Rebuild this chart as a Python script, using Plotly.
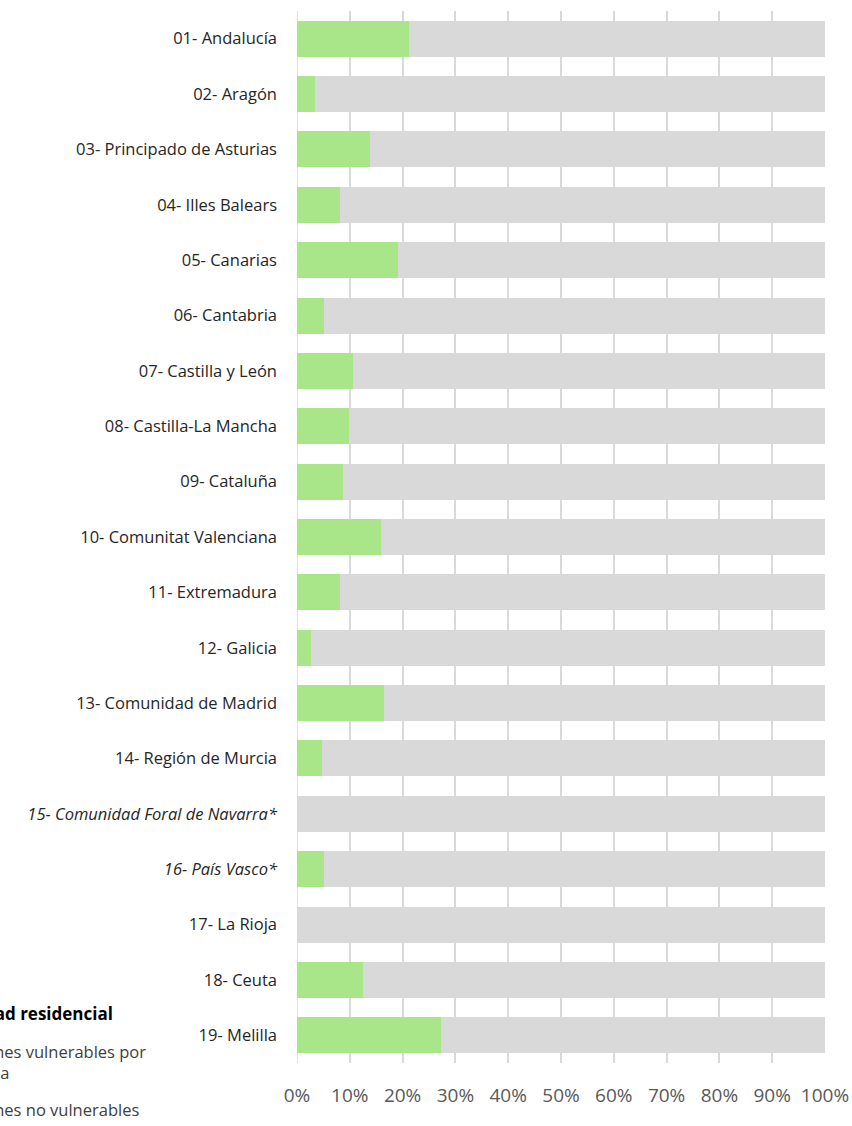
import plotly.graph_objects as go

categories = [
    "01- Andalucía", "02- Aragón", "03- Principado de Asturias", "04- Illes Balears",
    "05- Canarias", "06- Cantabria", "07- Castilla y León", "08- Castilla-La Mancha",
    "09- Cataluña", "10- Comunitat Valenciana", "11- Extremadura", "12- Galicia",
    "13- Comunidad de Madrid", "14- Región de Murcia", "15- Comunidad Foral de Navarra*",
    "16- País Vasco*", "17- La Rioja", "18- Ceuta", "19- Melilla",
]
tick_labels = [
    "01- Andalucía", "02- Aragón", "03- Principado de Asturias", "04- Illes Balears",
    "05- Canarias", "06- Cantabria", "07- Castilla y León", "08- Castilla-La Mancha",
    "09- Cataluña", "10- Comunitat Valenciana", "11- Extremadura", "12- Galicia",
    "13- Comunidad de Madrid", "14- Región de Murcia", "<i>15- Comunidad Foral de Navarra*</i>",
    "<i>16- País Vasco*</i>", "17- La Rioja", "18- Ceuta", "19- Melilla",
]
vulnerables = [21.3, 3.4, 13.9, 8.2, 19.2, 5.1, 10.6, 9.9, 8.8, 15.9,
               8.2, 2.6, 16.5, 4.7, 0.0, 5.2, 0.0, 12.5, 27.3]
no_vulnerables = [round(100 - v, 1) for v in vulnerables]

x_tickvals = [0, 10, 20, 30, 40, 50, 60, 70, 80, 90, 100]
x_ticktext = ["0%", "10%", "20%", "30%", "40%", "50%", "60%", "70%", "80%", "90%", "100%"]

legend_title = "Vulnerabilidad residencial"
name_vuln = "Secciones vulnerables por<br>vivienda"
name_no_vuln = "Secciones no vulnerables"

FONT = "Open Sans"

fig = go.Figure()
fig.add_trace(go.Bar(
    y=categories, x=vulnerables, orientation="h", name=name_vuln,
    legendgroup="g1",
    marker=dict(color="#a9e68a", line=dict(width=0)),
))
fig.add_trace(go.Bar(
    y=categories, x=no_vulnerables, orientation="h", name=name_no_vuln,
    legendgroup="g2",
    marker=dict(color="#d9d9d9", line=dict(width=0)),
))

fig.update_layout(
    width=852, height=1126,
    barmode="stack", bargap=0.35,
    plot_bgcolor="white", paper_bgcolor="white",
    font=dict(family=FONT, size=16, color="#262626"),
    margin=dict(l=297, r=27, t=11, b=63, autoexpand=False),
    xaxis=dict(
        range=[0, 100], tickvals=x_tickvals, ticktext=x_ticktext,
        showgrid=True, gridcolor="#d9d9d9", gridwidth=1.5,
        zeroline=False, showline=False,
        tickfont=dict(family=FONT, size=19, color="#595959"),
        ticklabelstandoff=19,
    ),
    yaxis=dict(
        autorange="reversed", tickvals=categories, ticktext=tick_labels,
        showgrid=False, zeroline=False,
        showline=False,
        tickfont=dict(family=FONT, size=16.5, color="#262626"),
        ticklabelstandoff=19,
    ),
    legend=dict(
        title=dict(
            text="<span style='font-size:17px'><b>" + legend_title + "</b></span><br> ",
            font=dict(family=FONT, size=11, color="#000000"),
        ),
        traceorder="grouped",
        xref="paper", x=-0.7727, xanchor="left",
        yref="paper", y=0.0546, yanchor="top",
        font=dict(family=FONT, size=16.5, color="#404040"),
        itemwidth=47,
        bgcolor="rgba(0,0,0,0)",
        tracegroupgap=12,
    ),
)

fig.add_vline(x=0, line=dict(color="#d9d9d9", width=1.5), layer="below")

fig.write_html(
    "out.html",
    config={"displayModeBar": False},
    post_script="document.body.style.margin='0px';",
)
